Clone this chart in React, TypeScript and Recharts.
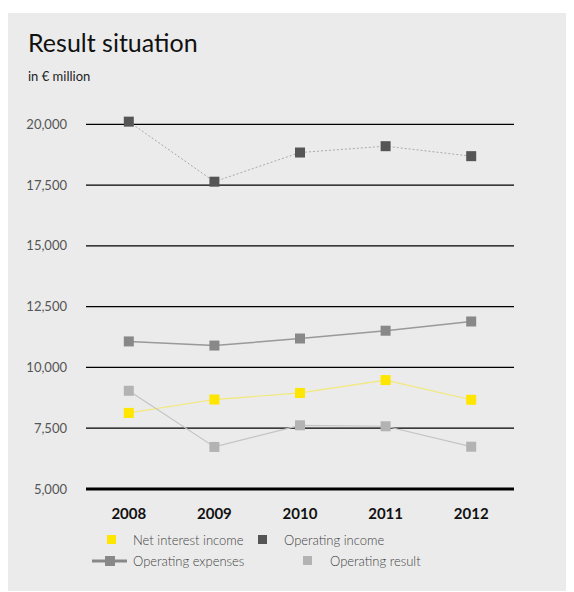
import { LineChart, Line, XAxis, YAxis, ReferenceLine, Legend } from 'recharts'

const years = ['2008', '2009', '2010', '2011', '2012']
const netInterestIncome = [8130, 8680, 8950, 9480, 8670]
const operatingIncome = [20110, 17640, 18840, 19100, 18690]
const operatingExpenses = [11070, 10900, 11190, 11510, 11890]
const operatingResult = [9040, 6730, 7620, 7580, 6740]
const yTicks = [5000, 7500, 10000, 12500, 15000, 17500, 20000]

const chartData = years.map((year, i) => ({
  year,
  nii: netInterestIncome[i],
  oi: operatingIncome[i],
  oe: operatingExpenses[i],
  or: operatingResult[i],
}))

const FONT = 'Lato, "Open Sans", sans-serif'

const squareDot = (fill: string) => (props: any) => {
  const { cx, cy, index } = props
  if (cx == null || cy == null) return <g key={index} />
  return <rect key={index} x={cx - 5} y={cy - 5} width={10} height={10} fill={fill} />
}

// legend positions in chart coords
const legendSlots: Record<string, { x: number; y: number }> = {
  nii: { x: 99, y: 0 },
  oi: { x: 250, y: 0 },
  oe: { x: 99, y: 21 },
  or: { x: 295, y: 21 },
}

function LegendContent({ payload }: any) {
  return (
    <div style={{ position: 'relative', width: 566, height: 0, fontFamily: FONT, fontSize: 13, color: '#444', fontWeight: 300 }}>
      {(payload ?? []).map((p: any) => {
        const key = p.dataKey as string
        const slot = legendSlots[key]
        if (!slot) return null
        const color = p.payload?.fill ?? p.color
        return (
          <div key={key} style={{ position: 'absolute', left: slot.x, top: slot.y, height: 14, display: 'flex', alignItems: 'center' }}>
            {key === 'oe' ? (
              <svg width={36} height={14} style={{ position: 'absolute', left: -15, top: 0 }}>
                <line x1={0} y1={7} x2={35} y2={7} stroke={color} strokeWidth={3} />
                <rect x={13} y={2} width={10} height={10} fill={color} />
              </svg>
            ) : (
              <svg width={10} height={10} style={{ position: 'absolute', left: 0, top: 2 }}>
                <rect width={9} height={9} fill={color} />
              </svg>
            )}
            <span style={{ position: 'absolute', left: key === 'or' ? 27 : 26, whiteSpace: 'nowrap' }}>{p.value}</span>
          </div>
        )
      })}
    </div>
  )
}

export default function App() {
  return (
    <div style={{ position: 'relative', width: 566, height: 578, marginTop: 5, background: '#ebebeb', fontFamily: FONT }}>
      <div style={{ position: 'absolute', left: 20, top: 14, fontSize: 25, color: '#111', fontWeight: 400 }}>Result situation</div>
      <div style={{ position: 'absolute', left: 20, top: 55, fontSize: 13, color: '#222' }}>in € million</div>
      <LineChart width={566} height={578} data={chartData} margin={{ top: 87, right: 60, left: 0, bottom: 72 }}>
        <XAxis
          dataKey="year"
          scale="band"
          axisLine={false}
          tickLine={false}
          tickSize={17}
          tickMargin={2}
          interval={0}
          tick={{ fontSize: 15, fontWeight: 700, fill: '#111', fontFamily: FONT }}
        />
        <YAxis
          width={78}
          domain={[5000, 21000]}
          ticks={yTicks}
          axisLine={false}
          tickLine={false}
          tickSize={17}
          tickMargin={2}
          tickFormatter={(v: number) => v.toLocaleString('en-US')}
          tick={{ fontSize: 13, fill: '#555', fontFamily: FONT, fontWeight: 400 }}
        />
        {yTicks.map(t => (
          <ReferenceLine key={t} y={t} stroke="#000" strokeWidth={t === 5000 ? 3 : 1.2} />
        ))}
        <Legend verticalAlign="bottom" wrapperStyle={{ left: 0, top: 520, width: 566, height: 0 }} content={<LegendContent />} />
        <Line dataKey="nii" name="Net interest income" stroke="#f3e878" strokeWidth={1.2} dot={squareDot('#ffe600')} fill="#ffe600" isAnimationActive={false} activeDot={false} />
        <Line dataKey="oi" name="Operating income" stroke="#aaaaaa" strokeWidth={1} strokeDasharray="2 2" dot={squareDot('#555555')} fill="#555555" isAnimationActive={false} activeDot={false} />
        <Line dataKey="oe" name="Operating expenses" stroke="#999999" strokeWidth={1.5} dot={squareDot('#888888')} fill="#888888" isAnimationActive={false} activeDot={false} />
        <Line dataKey="or" name="Operating result" stroke="#c4c4c4" strokeWidth={1.2} dot={squareDot('#b3b3b3')} fill="#b3b3b3" isAnimationActive={false} activeDot={false} />
      </LineChart>
    </div>
  )
}
